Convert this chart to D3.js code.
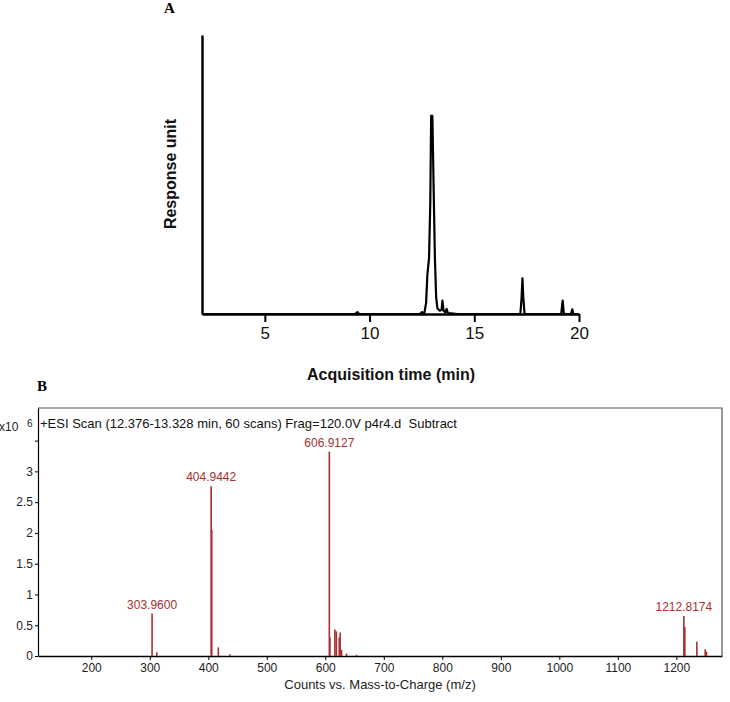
<!DOCTYPE html>
<html>
<head>
<meta charset="utf-8">
<script src="https://cdn.jsdelivr.net/npm/d3@7"></script>
<style>
  body { margin: 0; background: #fff; }
  svg { display: block; }
</style>
</head>
<body>
<div id="chart"></div>
<script>
// panel A: chromatogram (time in min, response in arbitrary units, axis top = 100)
const timeMin = [2.0, 9.3, 9.42, 9.5, 12.4, 12.5, 12.56, 12.62, 12.7, 12.76, 12.84, 12.9, 12.94, 13.0, 13.06,
  13.12, 13.18, 13.24, 13.35, 13.44, 13.48, 13.53, 13.62, 13.68, 13.74, 13.9, 14.2, 17.2, 17.26, 17.3,
  17.34, 17.4, 19.15, 19.22, 19.27, 19.32, 19.62, 19.68, 19.73, 20.0];
const response = [0, 0, 0.7, 0, 0, 0.7, 0.3, 0.5, 4, 14, 20, 40, 71, 71, 45,
  20, 6, 2, 1.2, 1.5, 4.8, 1.2, 0.6, 1.8, 0.3, 0.2, 0, 0, 6, 12.8,
  6, 0, 0, 4.8, 0.5, 0, 0, 1.7, 0, 0];
const timeTicks = [5, 10, 15, 20];

// panel B: mass spectrum (m/z, counts x10^6)
const mzValues = [303.96, 312.0, 404.9442, 405.95, 417.2, 437.0, 606.9127, 607.9, 616.4, 618.9, 623.8, 625.4,
  627.8, 636.3, 653.4, 1212.8174, 1214.5, 1235.0, 1249.3, 1251.5];
const counts = [0.69, 0.06, 2.76, 2.05, 0.14, 0.03, 3.32, 0.3, 0.43, 0.4, 0.3, 0.38,
  0.1, 0.04, 0.02, 0.65, 0.47, 0.23, 0.11, 0.07];
const labelMz = [303.96, 404.9442, 606.9127, 1212.8174];
const labelText = ["303.9600", "404.9442", "606.9127", "1212.8174"];
const mzTicks = [200, 300, 400, 500, 600, 700, 800, 900, 1000, 1100, 1200];
const countTicks = [0, 0.5, 1, 1.5, 2, 2.5, 3, 3.5];

const svg = d3.select("#chart").append("svg")
    .attr("width", 730)
    .attr("height", 702);

const sans = "'Liberation Sans', Arial, sans-serif";
const serif = "'Liberation Serif', 'Times New Roman', serif";
const red = "#a6302f";

// ---------- A ----------
const xA = d3.scaleLinear().domain([2, 20]).range([202, 579]);
const yA = d3.scaleLinear().domain([0, 100]).range([314, 35]);

svg.append("text")
    .attr("x", 164).attr("y", 13)
    .style("font-family", serif).style("font-weight", "bold").style("font-size", "15px")
    .text("A");

const axA = svg.append("g")
    .attr("transform", "translate(0," + yA(0) + ")")
    .call(d3.axisBottom(xA).tickValues(timeTicks).tickSize(8).tickSizeOuter(0).tickPadding(5));
axA.select(".domain").attr("stroke-width", 2.5);
axA.selectAll(".tick line").attr("stroke-width", 2);
axA.selectAll(".tick text")
    .style("font-family", sans).style("font-size", "17px").attr("fill", "#111");

const ayA = svg.append("g")
    .attr("transform", "translate(" + xA(2) + ",0)")
    .call(d3.axisLeft(yA).tickValues([]).tickSizeOuter(0));
ayA.select(".domain").attr("stroke-width", 2.5);

const lineA = d3.line()
    .x((d, i) => xA(timeMin[i]))
    .y(d => yA(d));

svg.append("path")
    .datum(response)
    .attr("d", lineA)
    .attr("fill", "none")
    .attr("stroke", "#000")
    .attr("stroke-width", 2.2)
    .attr("stroke-linejoin", "round");

svg.append("text")
    .attr("x", 391).attr("y", 380)
    .style("text-anchor", "middle")
    .style("font-family", sans).style("font-weight", "bold").style("font-size", "16px")
    .attr("fill", "#111")
    .text("Acquisition time (min)");

svg.append("text")
    .attr("transform", "rotate(-90)")
    .attr("x", -174).attr("y", 176)
    .style("text-anchor", "middle")
    .style("font-family", sans).style("font-weight", "bold").style("font-size", "16px")
    .attr("fill", "#111")
    .text("Response unit");

// ---------- B ----------
const xB = d3.scaleLinear().domain([109, 1278]).range([38, 722]);
const yB = d3.scaleLinear().domain([0, 4.03]).range([656, 408]);

svg.append("text")
    .attr("x", 37).attr("y", 391)
    .style("font-family", serif).style("font-weight", "bold").style("font-size", "15px")
    .text("B");

// frame top and right
svg.append("path")
    .attr("d", "M" + xB(109) + "," + yB(4.03) + "H" + xB(1278) + "V" + yB(0))
    .attr("fill", "none")
    .attr("stroke", "#555")
    .attr("stroke-width", 1.2);

const axB = svg.append("g")
    .attr("transform", "translate(0," + yB(0) + ")")
    .call(d3.axisBottom(xB).tickValues(mzTicks).tickSize(4).tickSizeOuter(0).tickPadding(3)
        .tickFormat(d3.format("d")));
axB.select(".domain").attr("stroke-width", 1.5);
axB.selectAll(".tick text")
    .style("font-family", sans).style("font-size", "12px").attr("fill", "#222");

const ayB = svg.append("g")
    .attr("transform", "translate(" + xB(109) + ",0)")
    .call(d3.axisLeft(yB).tickValues(countTicks).tickSize(3).tickSizeOuter(0).tickPadding(2)
        .tickFormat(d => d === 3.5 ? "" : d));
ayB.select(".domain").attr("stroke-width", 1.2);
ayB.selectAll(".tick text")
    .style("font-family", sans).style("font-size", "12px").attr("fill", "#222");

svg.append("text")
    .attr("x", -1).attr("y", 431)
    .style("font-family", sans).style("font-size", "12px").attr("fill", "#222")
    .text("x10");
svg.append("text")
    .attr("x", 27).attr("y", 427)
    .style("font-family", sans).style("font-size", "10px").attr("fill", "#222")
    .text("6");

svg.append("text")
    .attr("x", 40).attr("y", 428)
    .style("font-family", sans).style("font-size", "13px").attr("fill", "#111")
    .style("white-space", "pre")
    .text("+ESI Scan (12.376-13.328 min, 60 scans) Frag=120.0V p4r4.d  Subtract");

svg.selectAll(".peak")
    .data(counts)
    .enter().append("line")
    .attr("class", "peak")
    .attr("x1", (d, i) => xB(mzValues[i]))
    .attr("x2", (d, i) => xB(mzValues[i]))
    .attr("y1", yB(0))
    .attr("y2", d => yB(d))
    .attr("stroke", red)
    .attr("stroke-width", 1.6);

svg.selectAll(".peakLabel")
    .data(labelText)
    .enter().append("text")
    .attr("class", "peakLabel")
    .attr("x", (d, i) => xB(labelMz[i]))
    .attr("y", (d, i) => yB(counts[mzValues.indexOf(labelMz[i])]) - 5)
    .style("text-anchor", "middle")
    .style("font-family", sans).style("font-size", "12px")
    .attr("fill", red)
    .text(d => d);

svg.append("text")
    .attr("x", 380).attr("y", 689)
    .style("text-anchor", "middle")
    .style("font-family", sans).style("font-size", "13px").attr("fill", "#222")
    .text("Counts vs. Mass-to-Charge (m/z)");
</script>
</body>
</html>
